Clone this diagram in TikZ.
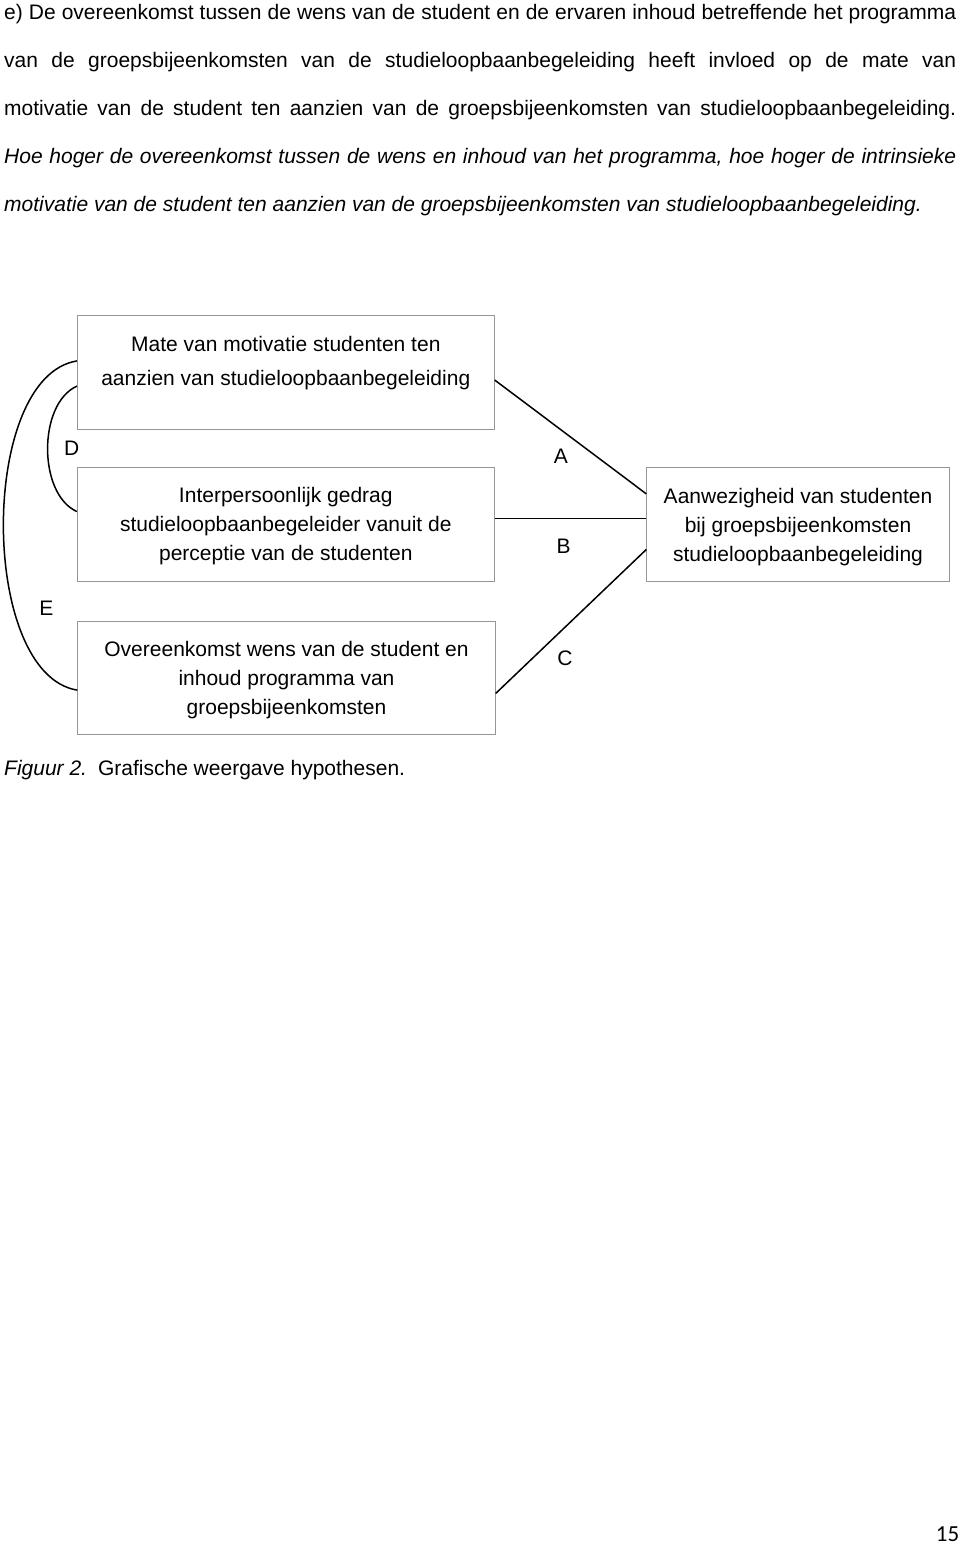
\documentclass[tikz,border=0pt]{standalone}
\usepackage{fontspec}
\setmainfont{Liberation Sans}
\newfontfamily\pagefont{Carlito}
\usetikzlibrary{calc}
\definecolor{boxgray}{RGB}{150,150,150}
\begin{document}
\begin{tikzpicture}[x=1pt,y=1pt,
  txt/.style={inner sep=0pt, font=\fontsize{21}{25}\selectfont, anchor=base},
  body/.style={inner sep=0pt, font=\fontsize{21}{25}\selectfont, anchor=base west},
  box/.style={draw=boxgray, line width=0.8pt, inner sep=0pt},
  link/.style={line width=1.5pt, draw=black}]
\useasboundingbox[fill=white] (0,0) rectangle (960,-1547);

% paragraph
\node[body] (p1) at (4,-19.5) {\makebox[952pt][s]{e) De overeenkomst tussen de wens van de student en de ervaren inhoud betreffende het programma}};
\node[body] (p2) at (4,-67.5) {\makebox[952pt][s]{van de groepsbijeenkomsten van de studieloopbaanbegeleiding heeft invloed op de mate van}};
\node[body] (p3) at (4,-115.5) {\makebox[952pt][s]{motivatie van de student ten aanzien van de groepsbijeenkomsten van studieloopbaanbegeleiding.}};
\node[body] (p4) at (4,-163.5) {\itshape\makebox[952pt][s]{Hoe hoger de overeenkomst tussen de wens en inhoud van het programma, hoe hoger de intrinsieke}};
\node[body] (p5) at (4,-211.5) {\itshape motivatie van de student ten aanzien van de groepsbijeenkomsten van studieloopbaanbegeleiding.};

% boxes
\node[box, minimum width=417pt, minimum height=113.6pt] (b1) at (285.8,-372.5) {};
\node[box, minimum width=417pt, minimum height=113.3pt] (b2) at (285.8,-524.35) {};
\node[box, minimum width=302.6pt, minimum height=113.7pt] (b3) at (798,-524.2) {};
\node[box, minimum width=417.6pt, minimum height=113.3pt] (b4) at (286.5,-677.7) {};

% box texts
\node[txt] (t11) at (285.8,-351) {Mate van motivatie studenten ten};
\node[txt] (t12) at (285.8,-385) {aanzien van studieloopbaanbegeleiding};
\node[txt] (t21) at (285.8,-502.7) {Interpersoonlijk gedrag};
\node[txt] (t22) at (285.8,-531.7) {studieloopbaanbegeleider vanuit de};
\node[txt] (t23) at (285.8,-560.7) {perceptie van de studenten};
\node[txt] (t31) at (798,-503.3) {Aanwezigheid van studenten};
\node[txt] (t32) at (798,-532) {bij groepsbijeenkomsten};
\node[txt] (t33) at (798,-561) {studieloopbaanbegeleiding};
\node[txt] (t41) at (286.5,-656) {Overeenkomst wens van de student en};
\node[txt] (t42) at (286.5,-685) {inhoud programma van};
\node[txt] (t43) at (286.5,-714) {groepsbijeenkomsten};

% connector end points
\coordinate (aS) at ($(b1.north east)!0.566!(b1.south east)$);
\coordinate (aE) at ($(b3.north west)!0.235!(b3.south west)$);
\coordinate (bS) at ($(b2.north east)!0.447!(b2.south east)$);
\coordinate (cS) at ($(b4.north east)!0.638!(b4.south east)$);
\coordinate (cE) at ($(b3.north west)!0.721!(b3.south west)$);
\coordinate (dS) at ($(b1.north west)!0.619!(b1.south west)$);
\coordinate (dE) at ($(b2.north west)!0.388!(b2.south west)$);
\coordinate (eS) at ($(b1.north west)!0.399!(b1.south west)$);
\coordinate (eE) at ($(b4.north west)!0.609!(b4.south west)$);

\draw[link] (aS) -- (aE);
\draw[link] (bS) -- (bS -| b3.west);
\draw[link] (cS) -- (cE);
\draw[link] (dS) .. controls +(-39.1,-17.6) and +(-39.1,17.6) .. (dE);
\draw[link] (eS) .. controls +(-98.3,-15.9) and +(-98.3,15.9) .. (eE);

% labels
\node[txt] (lA) at (560.8,-463.3) {A};
\node[txt] (lB) at (563.7,-553.3) {B};
\node[txt] (lC) at (565,-665) {C};
\node[txt] (lD) at (71.6,-455) {D};
\node[txt] (lE) at (46.3,-615) {E};

% caption
\node[body] (cap) at (4,-775) {\textit{Figuur 2.}\hspace{11pt}Grafische weergave hypothesen.};

% page number
\node[inner sep=0pt, anchor=base east, font=\pagefont\fontsize{23}{27}\selectfont] (pg) at (959.5,-1541.5) {15};
\end{tikzpicture}
\end{document}
